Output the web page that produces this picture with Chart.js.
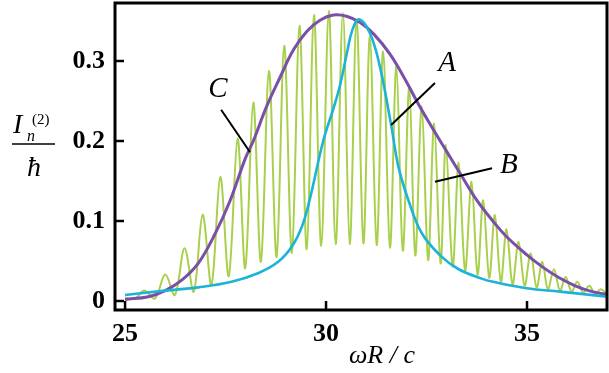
<!DOCTYPE html>
<html>
<head>
<meta charset="utf-8">
<script src="https://cdn.jsdelivr.net/npm/chart.js@4.4.1/dist/chart.umd.min.js"></script>
<style>
html,body{margin:0;padding:0;background:#fff;}
#wrap{position:relative;width:609px;height:373px;}
</style>
</head>
<body>
<div id="wrap"><canvas id="chart" width="609" height="373"></canvas></div>
<script>
// tick labels
const xTicks = [25, 30, 35];
const yTicks = [0, 0.1, 0.2, 0.3];

// green curve: oscillating spectrum (alternating troughs and peaks)
const greenX = [25.00, 25.25, 25.48, 25.74, 26.00, 26.24, 26.48, 26.71, 26.93, 27.15,
  27.37, 27.58, 27.80, 27.99, 28.19, 28.38, 28.58, 28.77, 28.96, 29.15,
  29.34, 29.52, 29.70, 29.88, 30.07, 30.24, 30.42, 30.59, 30.76, 30.93,
  31.09, 31.26, 31.42, 31.59, 31.75, 31.91, 32.07, 32.22, 32.38, 32.54,
  32.69, 32.85, 32.98, 33.15, 33.30, 33.46, 33.62, 33.77, 33.91, 34.06,
  34.20, 34.35, 34.49, 34.64, 34.79, 34.94, 35.09, 35.24, 35.38, 35.52,
  35.67, 35.82, 35.96, 36.11, 36.25, 36.40, 36.55, 36.69, 36.83, 36.99];
const greenY = [0.004, 0.003, 0.013, 0.003, 0.033, 0.0075, 0.066, 0.0117, 0.108, 0.020,
  0.155, 0.031, 0.203, 0.041, 0.248, 0.049, 0.2875, 0.055, 0.319, 0.060,
  0.344, 0.0646, 0.3575, 0.069, 0.3625, 0.071, 0.360, 0.0712, 0.352, 0.072,
  0.330, 0.070, 0.312, 0.0667, 0.293, 0.063, 0.267, 0.057, 0.243, 0.051,
  0.222, 0.047, 0.195, 0.043, 0.173, 0.038, 0.149, 0.033, 0.126, 0.029,
  0.1075, 0.024, 0.0896, 0.021, 0.074, 0.019, 0.0596, 0.017, 0.049, 0.0146,
  0.0396, 0.013, 0.030, 0.0117, 0.024, 0.0104, 0.019, 0.0088, 0.0146, 0.009];

// purple curve C
const purpleX = [25.00, 25.58, 26.00, 26.41, 26.82, 27.24, 27.61, 27.99, 28.19, 28.52,
  28.86, 29.19, 29.52, 29.85, 30.18, 30.51, 30.85, 31.20, 31.60, 32.00,
  32.30, 32.65, 33.00, 33.33, 33.75, 34.15, 34.50, 34.99, 35.40, 35.80,
  36.20, 36.60, 36.99];
const purpleY = [0.002, 0.0054, 0.013, 0.026, 0.047, 0.084, 0.125, 0.178, 0.200, 0.243,
  0.280, 0.314, 0.337, 0.351, 0.3575, 0.356, 0.348, 0.333, 0.308, 0.274,
  0.246, 0.216, 0.187, 0.160, 0.126, 0.100, 0.080, 0.058, 0.042, 0.029,
  0.019, 0.012, 0.008];

// cyan curve B
const cyanX = [25.00, 26.00, 26.82, 27.65, 28.32, 28.81, 29.15, 29.40, 29.60, 29.93,
  30.18, 30.35, 30.52, 30.65, 30.82, 31.09, 31.34, 31.62, 31.80, 32.05,
  32.38, 32.84, 33.29, 33.87, 34.16, 34.99, 35.82, 36.99];
const cyanY = [0.0075, 0.013, 0.017, 0.024, 0.035, 0.049, 0.068, 0.093, 0.128, 0.200,
  0.240, 0.270, 0.310, 0.338, 0.352, 0.335, 0.293, 0.220, 0.168, 0.126,
  0.085, 0.057, 0.040, 0.028, 0.024, 0.016, 0.0117, 0.0055];

function pts(xs, ys){
  return xs.map((v, i) => ({x: v, y: ys[i]}));
}

const serif = "'Liberation Serif', 'DejaVu Serif', serif";

/* frame, inward ticks, axis titles and curve labels */
const decorPlugin = {
  id: 'decor',
  afterDraw(chart){
    const ctx = chart.ctx;
    const a = chart.chartArea;
    const sx = chart.scales.x, sy = chart.scales.y;
    ctx.save();
    ctx.strokeStyle = '#000';
    ctx.lineWidth = 3;
    ctx.strokeRect(a.left, a.top, a.right - a.left, a.bottom - a.top);

    ctx.lineWidth = 2.5;
    yTicks.forEach(v => {
      let py = sy.getPixelForValue(v);
      ctx.beginPath(); ctx.moveTo(a.left, py); ctx.lineTo(a.left + 9, py); ctx.stroke();
    });
    xTicks.forEach(v => {
      let px = sx.getPixelForValue(v);
      ctx.beginPath(); ctx.moveTo(px, a.bottom); ctx.lineTo(px, a.bottom - 9); ctx.stroke();
    });

    // pointer lines for A, B, C
    ctx.lineWidth = 2;
    const lines = [
      [27.39, 0.239, 28.11, 0.186],
      [32.71, 0.2725, 31.62, 0.220],
      [34.13, 0.166, 32.71, 0.149]
    ];
    lines.forEach(l => {
      ctx.beginPath();
      ctx.moveTo(sx.getPixelForValue(l[0]), sy.getPixelForValue(l[1]));
      ctx.lineTo(sx.getPixelForValue(l[2]), sy.getPixelForValue(l[3]));
      ctx.stroke();
    });

    ctx.fillStyle = '#000';
    ctx.textAlign = 'center';
    ctx.textBaseline = 'middle';
    ctx.font = 'italic 29px ' + serif;
    ctx.fillText('C', sx.getPixelForValue(27.31), sy.getPixelForValue(0.264));
    ctx.fillText('A', sx.getPixelForValue(33.01), sy.getPixelForValue(0.2975));
    ctx.fillText('B', sx.getPixelForValue(34.55), sy.getPixelForValue(0.170));

    // x title
    ctx.textAlign = 'left';
    ctx.textBaseline = 'alphabetic';
    ctx.font = 'italic 26px ' + serif;
    ctx.fillText('\u03c9R / c', 349, 363);

    // y title: I_n^(2) over h-bar
    ctx.font = 'italic 28px ' + serif;
    ctx.fillText('I', 13, 133);
    ctx.font = 'italic 16px ' + serif;
    ctx.fillText('n', 27, 141);
    ctx.font = '15px ' + serif;
    ctx.fillText('(2)', 32, 124);
    ctx.lineWidth = 1.6;
    ctx.beginPath(); ctx.moveTo(12, 144); ctx.lineTo(55, 144); ctx.stroke();
    ctx.textAlign = 'center';
    ctx.font = 'italic 28px ' + serif;
    ctx.fillText('\u0127', 34, 176);
    ctx.restore();
  }
};

const ctx = document.getElementById('chart').getContext('2d');

new Chart(ctx, {
  type: 'line',
  data: {
    datasets: [
      {
        label: 'B',
        data: pts(cyanX, cyanY),
        borderColor: '#1eb3d6',
        borderWidth: 2.6,
        tension: 0.4,
        pointRadius: 0,
        order: 1
      },
      {
        label: 'C',
        data: pts(purpleX, purpleY),
        borderColor: '#7b4fa9',
        borderWidth: 3,
        tension: 0.4,
        pointRadius: 0,
        order: 2
      },
      {
        label: 'A',
        data: pts(greenX, greenY),
        borderColor: '#a9d04c',
        borderWidth: 2,
        tension: 0.35,
        pointRadius: 0,
        order: 3
      }
    ]
  },
  options: {
    responsive: false,
    animation: false,
    layout: {padding: {left: 0, top: 3, right: 2, bottom: 0}},
    plugins: {legend: {display: false}, tooltip: {enabled: false}},
    scales: {
      x: {
        type: 'linear',
        min: 24.75,
        max: 36.99,
        grid: {display: false, drawTicks: false},
        border: {display: false},
        afterBuildTicks: s => { s.ticks = xTicks.map(v => ({value: v})); },
        afterFit: s => { s.height = 63; s.paddingLeft = 0; s.paddingRight = 0; },
        ticks: {
          padding: 9,
          color: '#000',
          maxRotation: 0,
          font: {family: serif, size: 26, weight: 'bold'}
        }
      },
      y: {
        type: 'linear',
        min: -0.01125,
        max: 0.3725,
        grid: {display: false, drawTicks: false},
        border: {display: false},
        afterBuildTicks: s => { s.ticks = yTicks.map(v => ({value: v})); },
        afterFit: s => { s.width = 115; s.paddingTop = 0; s.paddingBottom = 0; },
        ticks: {
          padding: 10,
          color: '#000',
          font: {family: serif, size: 26, weight: 'bold'},
          callback: v => (v === 0 ? '0' : v.toFixed(1))
        }
      }
    }
  },
  plugins: [decorPlugin]
});
</script>
</body>
</html>
